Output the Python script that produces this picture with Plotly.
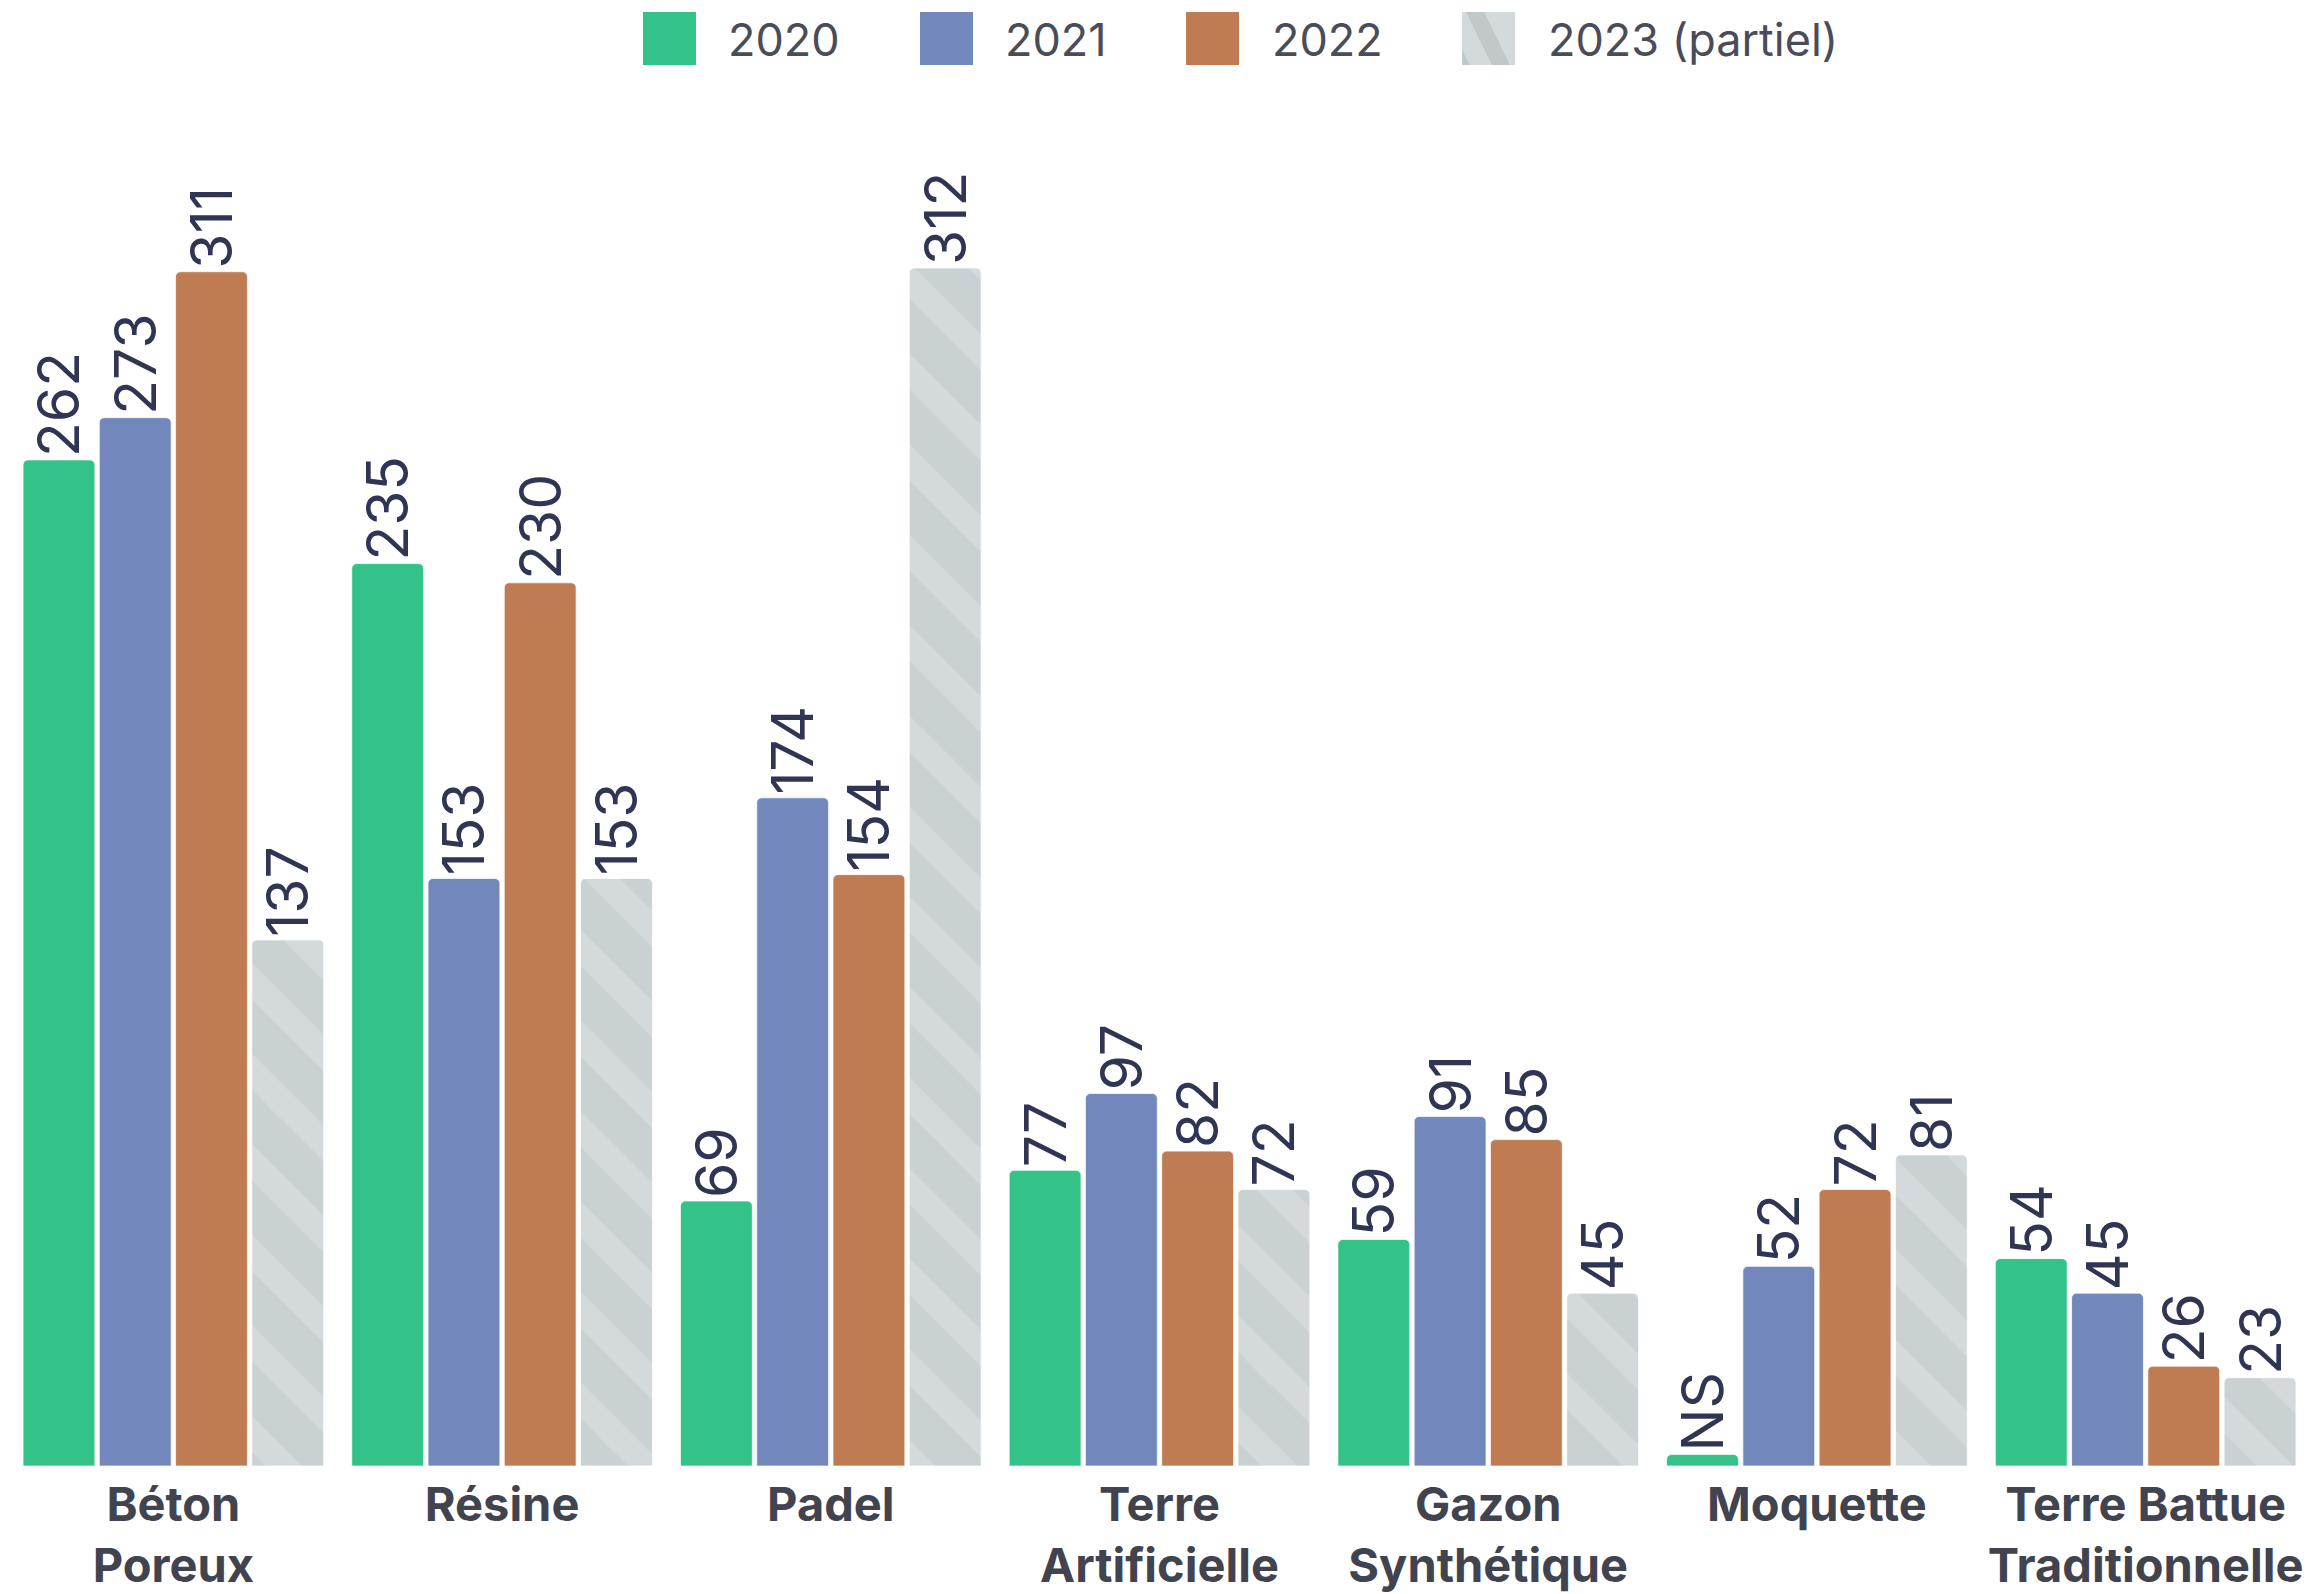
import plotly.graph_objects as go

categories = ["Béton<br>Poreux", "Résine", "Padel", "Terre<br>Artificielle",
              "Gazon<br>Synthétique", "Moquette", "Terre Battue<br>Traditionnelle"]
series_names = ["2020", "2021", "2022", "2023 (partiel)"]
v2020 = [262, 235, 69, 77, 59, 3, 54]
t2020 = ["262", "235", "69", "77", "59", "NS", "54"]
v2021 = [273, 153, 174, 97, 91, 52, 45]
v2022 = [311, 230, 154, 82, 85, 72, 26]
v2023 = [137, 153, 312, 72, 45, 81, 23]

colors = ["#33c288", "#7288bc", "#bf7b52", "#d4dadc"]
hatch_fg = "#c0c8c9"
label_color = "#2f3553"
axis_color = "#41434f"
legend_color = "#4a4c5a"

W, H = 2313, 1594
L, R, T, B = 9, 3, 150, 128
PW, PH = W - L - R, H - T - B


def px_x(px):
    return (px - L) / PW


def px_y(py):
    return (H - B - py) / PH


fig = go.Figure()
vals = [v2020, v2021, v2022, v2023]
texts = [t2020, [str(v) for v in v2021], [str(v) for v in v2022], [str(v) for v in v2023]]
for i, name in enumerate(series_names):
    marker = dict(color=colors[i], line=dict(color="rgba(255,255,255,0.7)", width=1))
    if i == 3:
        marker["pattern"] = dict(shape="\\", fgcolor=hatch_fg, bgcolor=colors[i],
                                 size=64, solidity=0.6, fillmode="overlay")
    fig.add_trace(go.Bar(
        x=categories, y=vals[i], name=name, marker=marker,
        text=texts[i], textposition="outside", textangle=-90,
        constraintext="none", cliponaxis=False,
        textfont=dict(family="Inter", size=57, color=label_color),
        showlegend=False,
    ))

# custom legend (large swatches)
leg_sw = [643, 920, 1186, 1462]
leg_tx = [726, 1003, 1270, 1546]
sw = 53
sy0, sy1 = 12, 65
for i, name in enumerate(series_names):
    fig.add_shape(type="rect", xref="paper", yref="paper",
                  x0=px_x(leg_sw[i]), x1=px_x(leg_sw[i] + sw),
                  y0=px_y(sy1), y1=px_y(sy0),
                  fillcolor=colors[i], line=dict(width=0), layer="above")
    if i == 3:
        x0 = leg_sw[i]
        pts = [(x0 + 4, sy0), (x0 + 22, sy0), (x0 + 48, sy1), (x0 + 30, sy1)]
        path = "M " + " L ".join(f"{px_x(a)},{px_y(b)}" for a, b in pts) + " Z"
        fig.add_shape(type="path", xref="paper", yref="paper", path=path,
                      fillcolor=hatch_fg, line=dict(width=0), layer="above")
        pts2 = [(x0, sy0 + 38), (x0, sy1), (x0 + 8, sy1)]
        path2 = "M " + " L ".join(f"{px_x(a)},{px_y(b)}" for a, b in pts2) + " Z"
        fig.add_shape(type="path", xref="paper", yref="paper", path=path2,
                      fillcolor=hatch_fg, line=dict(width=0), layer="above")
    fig.add_annotation(xref="paper", yref="paper", x=px_x(leg_tx[i]), y=px_y(40),
                       text=name, showarrow=False, xanchor="left", yanchor="middle",
                       font=dict(family="Inter", size=45, color=legend_color))

fig.update_layout(
    width=W, height=H,
    margin=dict(l=L, r=R, t=T, b=B, autoexpand=False),
    paper_bgcolor="white", plot_bgcolor="white",
    barmode="group", bargap=0.072, bargroupgap=0.058,
    barcornerradius=5,
    font=dict(family="Inter", color=axis_color),
    showlegend=False,
)
fig.update_xaxes(showgrid=False, showline=False, zeroline=False, ticks="",
                 tickfont=dict(family="Inter", size=47, color=axis_color, weight="bold"),
                 ticklabelstandoff=7, automargin=False)
fig.update_yaxes(range=[0, PH / 3.84], visible=False, showgrid=False, zeroline=False)

fig.write_html("out.html", config={"displayModeBar": False},
               post_script="document.body.style.margin='0';")
